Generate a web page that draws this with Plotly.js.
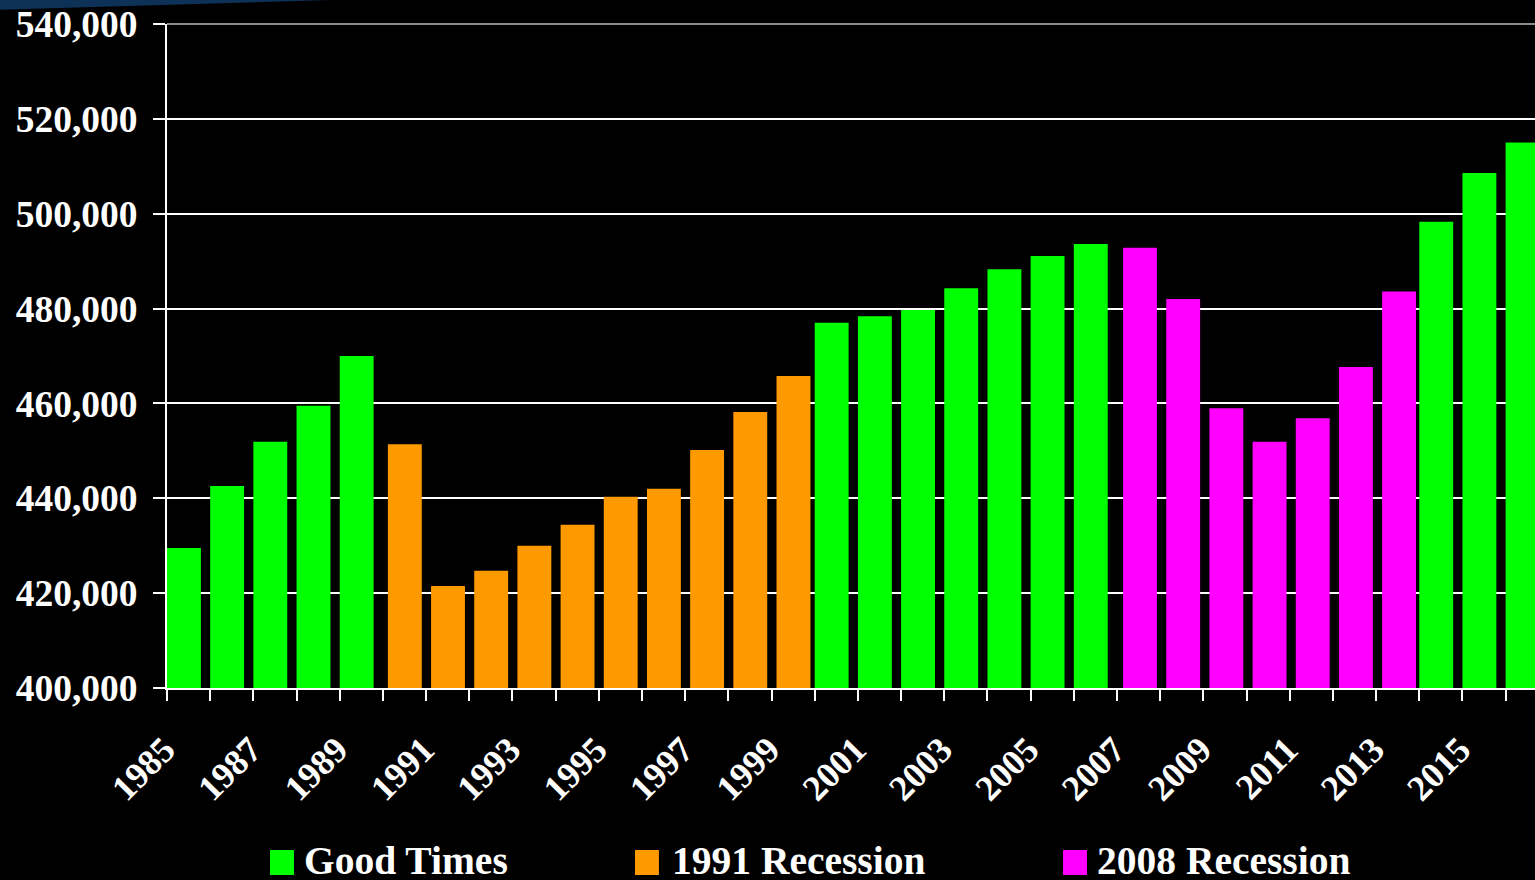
<!DOCTYPE html>
<html>
<head>
<meta charset="utf-8">
<script src="https://cdn.plot.ly/plotly-3.0.1.min.js"></script>
<style>
html,body{margin:0;padding:0;background:#000;}
#chart{width:1535px;height:880px;}
</style>
</head>
<body>
<div id="chart"></div>
<script>
// ---- Data ----
var years = ['1985','1986','1987','1988','1989','1990','1991','1992','1993','1994','1995','1996','1997','1998','1999','2000','2001','2002','2003','2004','2005','2006','2007','2008','2009','2010','2011','2012','2013','2014','2015','2016'];
var values = [429500,442600,451900,459500,470000,451400,421500,424700,430000,434400,440300,442000,450200,458200,465800,477000,478400,479700,484300,488300,491100,493600,492800,482000,459000,451900,456900,467700,483600,498300,508600,515000];
var periods = ['Good Times','Good Times','Good Times','Good Times','Good Times',
  '1991 Recession','1991 Recession','1991 Recession','1991 Recession','1991 Recession','1991 Recession','1991 Recession','1991 Recession','1991 Recession','1991 Recession',
  'Good Times','Good Times','Good Times','Good Times','Good Times','Good Times','Good Times',
  '2008 Recession','2008 Recession','2008 Recession','2008 Recession','2008 Recession','2008 Recession','2008 Recession',
  'Good Times','Good Times','Good Times'];
var seriesNames = ['Good Times','1991 Recession','2008 Recession'];
var seriesColors = ['#00ff00','#ff9900','#ff00ff'];
var seriesOffsets = [-0.5,-0.385,-0.36];
var tickLabels = years.map(function(y){ return (parseInt(y,10) % 2 === 1) ? y : ''; });

var FONT = 'Liberation Serif, Times New Roman, serif';

var traces = seriesNames.map(function(name, i){
  var xs = [], ys = [];
  for (var k = 0; k < years.length; k++) {
    if (periods[k] === name) { xs.push(years[k]); ys.push(values[k]); }
  }
  return {
    type: 'bar', name: name, x: xs, y: ys,
    marker: {color: seriesColors[i]},
    offset: seriesOffsets[i], width: 0.785,
    showlegend: false, hoverinfo: 'x+y'
  };
});

// legend drawn as squares + text (paper coords)
var legendSquares = [[0.0753,0.0928],[0.3421,0.3596],[0.6550,0.6725]];
var legendTextX = [0.0987,0.3677,0.6784];
var shapes = [
  {type:'line', xref:'paper', yref:'paper', x0:0, x1:1, y0:1, y1:1, line:{color:'#8c8c8c', width:2}},
  {type:'path', xref:'paper', yref:'paper', path:'M -0.1221,1.0361 L 0.1200,1.0361 L -0.1221,1.0215 Z', fillcolor:'#0e3158', line:{width:0}}
];
var annotations = [];
seriesNames.forEach(function(name, i){
  shapes.push({type:'rect', xref:'paper', yref:'paper', x0:legendSquares[i][0], x1:legendSquares[i][1], y0:-0.2816, y1:-0.2440,
    fillcolor: seriesColors[i], line:{width:0}});
  annotations.push({xref:'paper', yref:'paper', x:legendTextX[i], y:-0.260, xanchor:'left', yanchor:'middle',
    showarrow:false, text:name, font:{family:FONT, size:39.5, color:'#ffffff', weight:700}});
});

var layout = {
  width: 1535, height: 880, autosize: false,
  paper_bgcolor: '#000000', plot_bgcolor: '#000000',
  margin: {l:167, r:0, t:24, b:192, pad:0},
  barmode: 'overlay',
  showlegend: false,
  xaxis: {
    type: 'category', categoryorder: 'array', categoryarray: years,
    range: [-0.5, 31.18],
    tickvals: years, ticktext: tickLabels,
    tickson: 'boundaries', ticks: 'outside', ticklen: 11, tickwidth: 2, tickcolor: '#ffffff',
    tickangle: -45,
    ticklabelstandoff: 24, ticklabelshift: -24,
    tickfont: {family: FONT, size: 36, color: '#ffffff', weight: 700},
    showline: true, linecolor: '#ffffff', linewidth: 2,
    showgrid: false, zeroline: false, fixedrange: true
  },
  yaxis: {
    range: [400000, 540000], dtick: 20000, tick0: 400000,
    tickformat: ',d',
    ticks: 'outside', ticklen: 12, tickwidth: 2, tickcolor: '#ffffff',
    ticklabelstandoff: 8,
    tickfont: {family: FONT, size: 37.5, color: '#ffffff', weight: 700},
    showline: true, linecolor: '#ffffff', linewidth: 2,
    showgrid: true, gridcolor: '#ffffff', gridwidth: 2,
    zeroline: false, fixedrange: true
  },
  shapes: shapes,
  annotations: annotations
};

Plotly.newPlot('chart', traces, layout, {displayModeBar: false, staticPlot: true});
</script>
</body>
</html>
